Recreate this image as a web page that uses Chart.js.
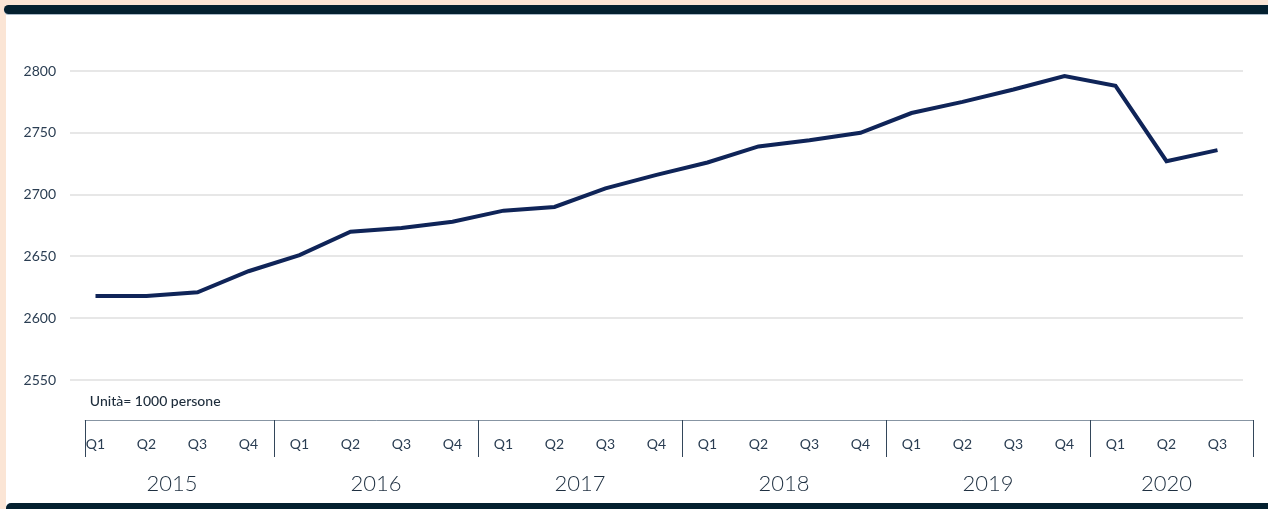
<!DOCTYPE html>
<html lang="it">
<head>
<meta charset="utf-8">
<title>Occupati per trimestre 2015–2020</title>
<script src="https://cdn.jsdelivr.net/npm/chart.js@4"></script>
<style>
  html, body { margin: 0; padding: 0; }
  body {
    width: 1268px; height: 509px; position: relative; overflow: hidden;
    background: #fbe5d5;
    font-family: Lato, "Open Sans", sans-serif;
  }
  .panel { position: absolute; left: 6px; top: 10px; right: 0; bottom: 3px; background: #ffffff; }
  .band-top {
    position: absolute; left: 4px; top: 5px; right: 0; height: 9px;
    background: #04202f; border-radius: 5px 0 0 5px;
    box-shadow: 0 1px 0 #a9b8c6;
  }
  .band-bottom {
    position: absolute; left: 6px; top: 503px; right: 0; bottom: 0;
    background: #04202f; border-radius: 5px 0 0 0;
  }
  #wrap { position: absolute; left: 0; top: 0; width: 1268px; height: 509px; }
</style>
</head>
<body>
<div class="panel"></div>
<div class="band-top"></div>
<div class="band-bottom"></div>
<div id="wrap"><canvas id="chart"></canvas></div>
<script>
// Occupati (migliaia di persone), dati trimestrali
const years = ['2015', '2016', '2017', '2018', '2019', '2020'];
const quarterNames = ['Q1', 'Q2', 'Q3', 'Q4'];
const quartersPerYear = [4, 4, 4, 4, 4, 3];
const occupati = [
  2618, 2618, 2621, 2638,
  2651, 2670, 2673, 2678,
  2687, 2690, 2705, 2716,
  2726, 2739, 2744, 2750,
  2766, 2775, 2785, 2796,
  2788, 2727, 2736
];
const yTicks = [2550, 2600, 2650, 2700, 2750, 2800];
const unitLabel = 'Unità= 1000 persone';

// etichette trimestrali e anno di appartenenza
const quarterLabels = [];
const quarterYear = [];
years.forEach((y, i) => {
  for (let q = 0; q < quartersPerYear[i]; q++) {
    quarterLabels.push(quarterNames[q]);
    quarterYear.push(i);
  }
});

const INK = '#2a3d52';
const FONT = 'Lato, "Open Sans", sans-serif';

// tabella sotto l'asse: separatori per anno, anni e unità di misura
const yearTable = {
  id: 'yearTable',
  afterDraw(chart) {
    const ctx = chart.ctx;
    const x = chart.scales.x;
    const area = chart.chartArea;
    const step = x.getPixelForValue(1) - x.getPixelForValue(0);
    const n = quarterLabels.length;
    const left = x.getPixelForValue(0) - step * 0.21;
    const right = x.getPixelForValue(n - 1) + step * 0.7;
    const top = area.bottom + 40;
    const bottom = area.bottom + 77;

    ctx.save();
    // unità
    ctx.fillStyle = '#1d2c3b';
    ctx.font = '500 14px ' + FONT;
    ctx.textAlign = 'left';
    ctx.textBaseline = 'middle';
    ctx.fillText(unitLabel, left + 5, area.bottom + 21);

    // linea superiore
    ctx.strokeStyle = '#8795a3';
    ctx.lineWidth = 1;
    ctx.beginPath();
    ctx.moveTo(left, top + 0.5);
    ctx.lineTo(right, top + 0.5);
    ctx.stroke();

    // separatori verticali
    const seps = [left];
    for (let i = 1; i < n; i++) {
      if (quarterYear[i] !== quarterYear[i - 1]) {
        seps.push((x.getPixelForValue(i - 1) + x.getPixelForValue(i)) / 2);
      }
    }
    seps.push(right);
    ctx.strokeStyle = '#33465a';
    seps.forEach(sx => {
      const px = Math.round(sx) + 0.5;
      ctx.beginPath();
      ctx.moveTo(px, top);
      ctx.lineTo(px, bottom);
      ctx.stroke();
    });

    // anni, centrati sui propri trimestri
    ctx.fillStyle = '#1e2f40';
    ctx.font = '300 22px ' + FONT;
    ctx.textAlign = 'center';
    years.forEach((y, yi) => {
      const idx = [];
      quarterYear.forEach((v, i) => { if (v === yi) idx.push(i); });
      const cx = (x.getPixelForValue(idx[0]) + x.getPixelForValue(idx[idx.length - 1])) / 2;
      ctx.fillText(y, cx, area.bottom + 104);
    });
    ctx.restore();
  }
};

new Chart(document.getElementById('chart'), {
  type: 'line',
  data: {
    labels: quarterLabels,
    datasets: [{
      label: 'Occupati',
      data: occupati,
      borderColor: '#0f2458',
      borderWidth: 4,
      pointRadius: 0,
      pointHoverRadius: 0,
      tension: 0,
      fill: false
    }]
  },
  options: {
    responsive: true,
    maintainAspectRatio: false,
    animation: false,
    events: [],
    layout: { padding: { top: 71, right: 25, left: 0, bottom: 0 } },
    plugins: { legend: { display: false }, tooltip: { enabled: false } },
    scales: {
      x: {
        type: 'category',
        offset: true,
        grid: { display: false, drawTicks: false },
        border: { display: false },
        ticks: {
          color: INK,
          font: { family: FONT, size: 14 },
          padding: 56,
          maxRotation: 0,
          autoSkip: false
        },
        afterFit(scale) {
          scale.height = 129;
          // le etichette restano dentro l'area: nessun margine laterale extra
          scale.paddingLeft = 0;
          scale.paddingRight = 0;
        }
      },
      y: {
        min: 2550,
        max: 2800,
        grid: { color: '#e7e7e7', lineWidth: 2, drawTicks: false },
        border: { display: false },
        afterBuildTicks(scale) { scale.ticks = yTicks.map(v => ({ value: v })); },
        ticks: {
          color: INK,
          font: { family: FONT, size: 14 },
          padding: 14,
          callback: v => String(v)
        },
        afterFit(scale) { scale.width = 70; }
      }
    }
  },
  plugins: [yearTable]
});
</script>
</body>
</html>
